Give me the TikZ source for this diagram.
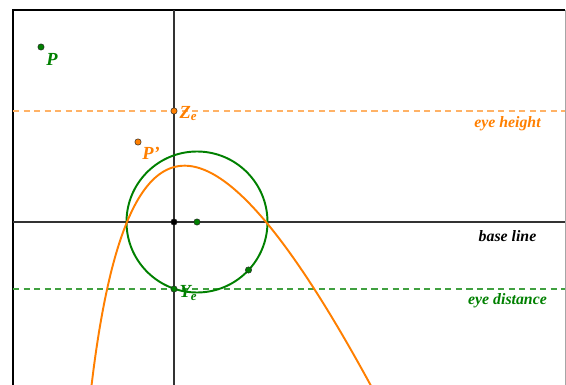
\documentclass[tikz,border=0pt]{standalone}
\usepackage{fontspec}
\setmainfont{Liberation Serif}
\usetikzlibrary{positioning}

\definecolor{ggbgreen}{RGB}{0,128,0}
\definecolor{ggborange}{RGB}{255,127,0}

\tikzset{
  dot/.style={circle, draw=black!85, line width=0.3pt, inner sep=0pt, minimum size=3.6pt},
  lbl/.style={font=\fontsize{9}{11}\selectfont\bfseries\itshape, inner sep=1pt},
  ptlbl/.style={font=\fontsize{10.5}{12}\selectfont\bfseries\itshape, inner sep=1pt},
}

\begin{document}
\begin{tikzpicture}[x=1cm, y=1cm]

\useasboundingbox (-3.48,-3.24) rectangle (7.84,4.44);
\clip (-3.48,-3.24) rectangle (7.84,4.44);

% frame

\coordinate (tl) at (-3.22, 4.24);
\coordinate (tr) at (7.82, 4.24);
\coordinate (bl) at (-3.22, -3.4);
\coordinate (br) at (7.82, -3.4);

\draw [line width=0.5pt, color=gray!70] (tr) -- (br);
\draw [line width=1.4pt] (bl) -- (tl) -- (tr);

% axes

\coordinate (axtop) at (0, 4.24);
\coordinate (axbot) at (0, -3.4);
\coordinate (blleft) at (-3.22, 0);
\coordinate (blright) at (7.82, 0);

\draw [line width=0.6pt, color=black!80] (axtop) -- (axbot);
\draw [line width=0.6pt, color=black!80] (blleft) -- (blright);

% dashed lines

\coordinate (ehleft) at (-3.22, 2.22);
\coordinate (ehright) at (7.82, 2.22);
\coordinate (edleft) at (-3.22, -1.34);
\coordinate (edright) at (7.82, -1.34);

\draw [line width=0.6pt, color=ggborange!60, dash pattern=on 3.5pt off 2.5pt] (ehleft) -- (ehright);
\draw [line width=0.6pt, color=ggbgreen!75, dash pattern=on 3.5pt off 2.5pt] (edleft) -- (edright);

% circle and curve

\draw [line width=1.1pt, color=ggbgreen] (0.46, 0) circle (1.41);

\draw [line width=1.1pt, color=ggborange] plot[domain=-1.66:3.96, samples=120, smooth]
  (\x, {-2*(\x*\x - 0.9*\x - 1.7296) /
    ((0.42407*\x + 1.5452) + sqrt((0.42407*\x + 1.5452)^2 - 0.10804*(\x*\x - 0.9*\x - 1.7296)))});

% points

\node[dot, fill=ggbgreen] (P) at (-2.66, 3.5) {};
\node[dot, fill=ggborange] (Pp) at (-0.72, 1.6) {};
\node[dot, fill=ggborange] (Ze) at (0, 2.22) {};
\node[dot, fill=black] (O) at (0, 0) {};
\node[dot, fill=ggbgreen] (C) at (0.46, 0) {};
\node[dot, fill=ggbgreen] (Ye) at (0, -1.34) {};
\node[dot, fill=ggbgreen] (Q) at (1.49, -0.96) {};

% labels

\node[ptlbl, color=ggbgreen] (Plbl) at (-2.44, 3.26) {P};
\node[ptlbl, color=ggborange] (Pplbl) at (-0.46, 1.38) {P'};
\node[ptlbl, color=ggborange, anchor=west] (Zelbl) at (0.07, 2.17) {Z\textsubscript{e}};
\node[ptlbl, color=ggbgreen, anchor=west] (Yelbl) at (0.07, -1.42) {Y\textsubscript{e}};

\node[lbl, color=ggborange] (ehlbl) at (6.67, 1.96) {eye height};
\node[lbl, color=black] (bllbl) at (6.67, -0.28) {base line};
\node[lbl, color=ggbgreen] (edlbl) at (6.67, -1.58) {eye distance};

\end{tikzpicture}
\end{document}
